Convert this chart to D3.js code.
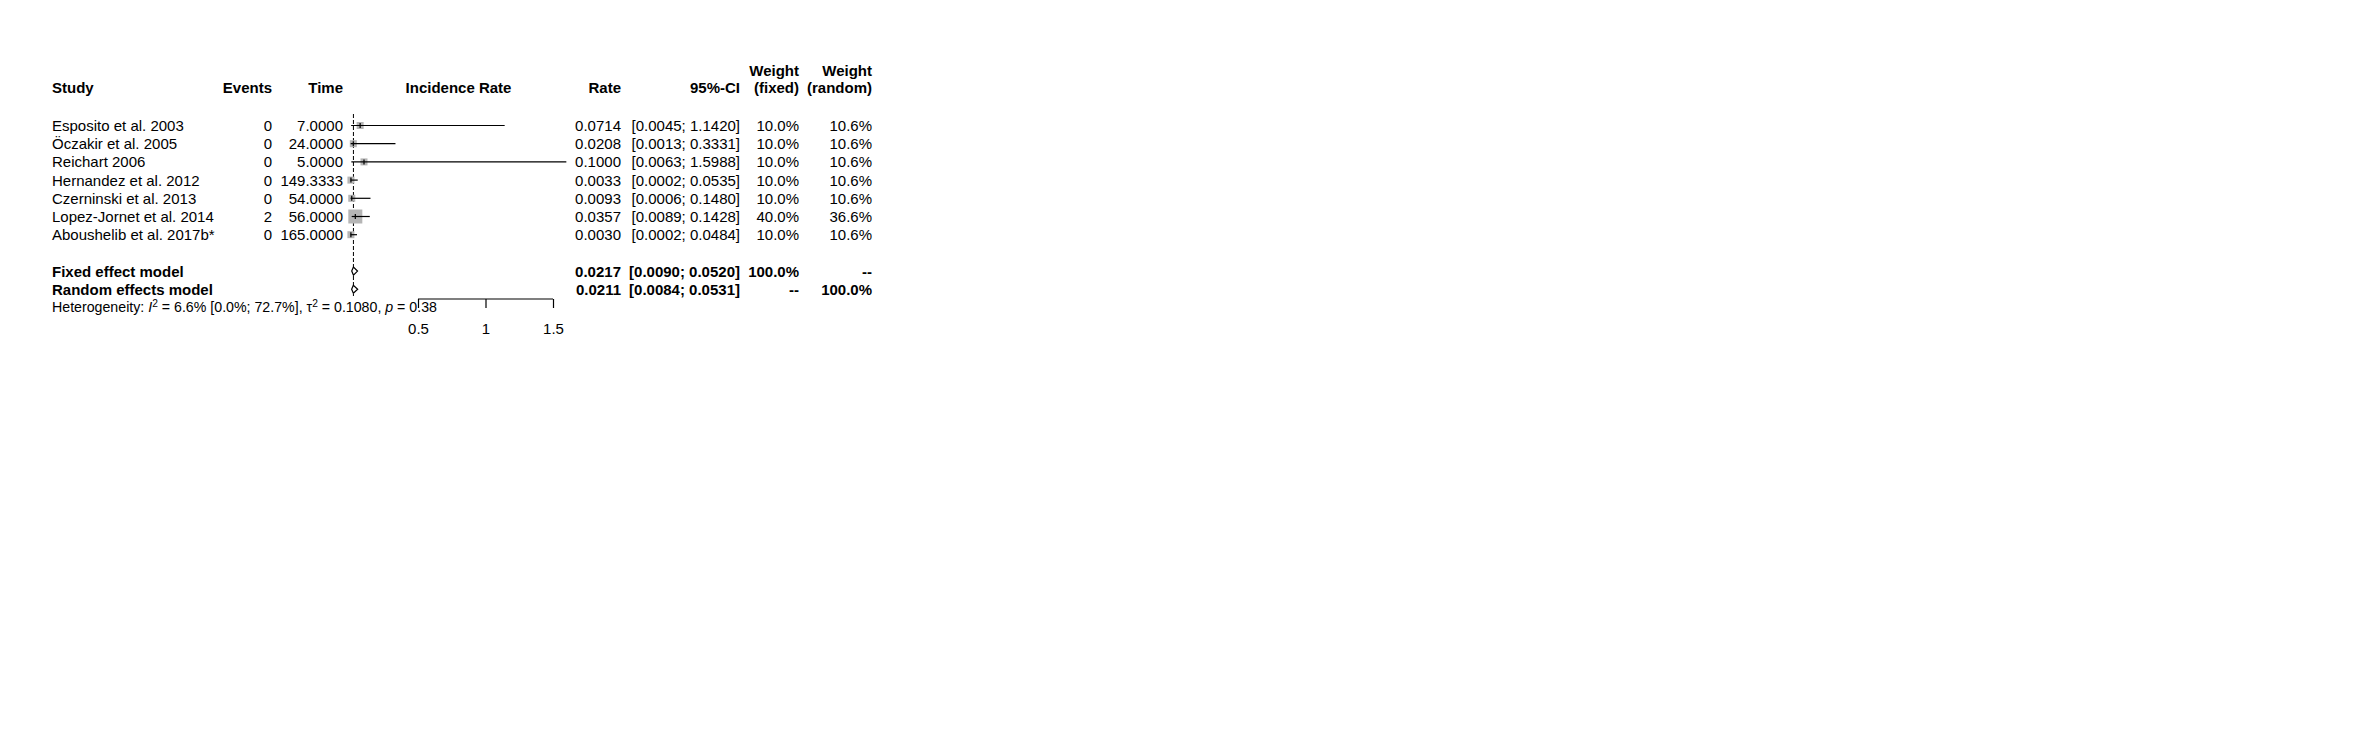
<!DOCTYPE html>
<html>
<head>
<meta charset="utf-8">
<script src="https://cdn.jsdelivr.net/npm/d3@7"></script>
<style>
  html, body { margin: 0; padding: 0; background: #fff; }
  svg text { font-family: "Liberation Sans", Arial, Helvetica, sans-serif; fill: #000; }
</style>
</head>
<body>
<script>
// ---- data ----
const studies = ["Esposito et al. 2003", "Öczakir et al. 2005", "Reichart 2006", "Hernandez et al. 2012",
                 "Czerninski et al. 2013", "Lopez-Jornet et al. 2014", "Aboushelib et al. 2017b*"];
const events = [0, 0, 0, 0, 0, 2, 0];
const times = [7.0, 24.0, 5.0, 149.3333, 54.0, 56.0, 165.0];
const rates = [0.0714, 0.0208, 0.1000, 0.0033, 0.0093, 0.0357, 0.0030];
const lowers = [0.0045, 0.0013, 0.0063, 0.0002, 0.0006, 0.0089, 0.0002];
const uppers = [1.1420, 0.3331, 1.5988, 0.0535, 0.1480, 0.1428, 0.0484];
const weightFixed = [10.0, 10.0, 10.0, 10.0, 10.0, 40.0, 10.0];
const weightRandom = [10.6, 10.6, 10.6, 10.6, 10.6, 36.6, 10.6];

const modelNames = ["Fixed effect model", "Random effects model"];
const modelRates = [0.0217, 0.0211];
const modelLowers = [0.0090, 0.0084];
const modelUppers = [0.0520, 0.0531];
const modelWFixed = ["100.0%", "--"];
const modelWRandom = ["--", "100.0%"];

const axisTicks = [0.5, 1, 1.5];
const heterogeneity = { I2: "6.6%", I2ci: "[0.0%; 72.7%]", tau2: "0.1080", p: "0.38" };

// ---- layout ----
const W = 2362, H = 738;
const svg = d3.select("body").append("svg").attr("width", W).attr("height", H);
svg.append("rect").attr("width", W).attr("height", H).attr("fill", "#fff");

const FS = 15;
const xStudy = 52, xEvents = 272, xTime = 343, xRate = 621, xCI = 740, xWF = 799, xWR = 872;
const rowY0 = 125.5, rowStep = 18.2;
const rowY = i => rowY0 + i * rowStep;

const x = d3.scaleLinear().domain([0, 1.5]).range([350.5, 553]);

// headers
const hdr = svg.append("g").attr("font-size", FS).attr("font-weight", "bold");
const hb2 = 93, hb1 = 76;
hdr.append("text").attr("x", xStudy).attr("y", hb2).text("Study");
hdr.append("text").attr("x", xEvents).attr("y", hb2).attr("text-anchor", "end").text("Events");
hdr.append("text").attr("x", xTime).attr("y", hb2).attr("text-anchor", "end").text("Time");
hdr.append("text").attr("x", 458.5).attr("y", hb2).attr("text-anchor", "middle").text("Incidence Rate");
hdr.append("text").attr("x", xRate).attr("y", hb2).attr("text-anchor", "end").text("Rate");
hdr.append("text").attr("x", xCI).attr("y", hb2).attr("text-anchor", "end").text("95%-CI");
hdr.append("text").attr("x", xWF).attr("y", hb1).attr("text-anchor", "end").text("Weight");
hdr.append("text").attr("x", xWF).attr("y", hb2).attr("text-anchor", "end").text("(fixed)");
hdr.append("text").attr("x", xWR).attr("y", hb1).attr("text-anchor", "end").text("Weight");
hdr.append("text").attr("x", xWR).attr("y", hb2).attr("text-anchor", "end").text("(random)");

// study rows text
const rows = svg.append("g").attr("font-size", FS);
studies.forEach((s, i) => {
  const y = rowY(i);
  const g = rows.append("g").attr("transform", `translate(0,${y})`);
  const t = (xx, txt, anchor) => g.append("text").attr("x", xx).attr("dy", "0.36em")
      .attr("text-anchor", anchor || "end").text(txt);
  t(xStudy, s, "start");
  t(xEvents, events[i]);
  t(xTime, times[i].toFixed(4));
  t(xRate, rates[i].toFixed(4));
  t(xCI, `[${lowers[i].toFixed(4)}; ${uppers[i].toFixed(4)}]`);
  t(xWF, weightFixed[i].toFixed(1) + "%");
  t(xWR, weightRandom[i].toFixed(1) + "%");
});

// model rows text
const mrows = svg.append("g").attr("font-size", FS).attr("font-weight", "bold");
modelNames.forEach((m, j) => {
  const y = rowY(8 + j);
  const g = mrows.append("g").attr("transform", `translate(0,${y})`);
  const t = (xx, txt, anchor) => g.append("text").attr("x", xx).attr("dy", "0.36em")
      .attr("text-anchor", anchor || "end").text(txt);
  t(xStudy, m, "start");
  t(xRate, modelRates[j].toFixed(4));
  t(xCI, `[${modelLowers[j].toFixed(4)}; ${modelUppers[j].toFixed(4)}]`);
  t(xWF, modelWFixed[j]);
  t(xWR, modelWRandom[j]);
});

// reference dashed line at fixed estimate
svg.append("line")
  .attr("x1", x(modelRates[0])).attr("x2", x(modelRates[0]))
  .attr("y1", 114).attr("y2", 296)
  .attr("stroke", "#000").attr("stroke-width", 1).attr("stroke-dasharray", "4,2");

// squares (side ∝ sqrt(weight))
const side = w => 7 * Math.sqrt(w / 10);
const plot = svg.append("g");
studies.forEach((s, i) => {
  const y = rowY(i), cx = x(rates[i]), sd = side(weightFixed[i]);
  plot.append("rect").attr("x", cx - sd / 2).attr("y", y - sd / 2)
    .attr("width", sd).attr("height", sd).attr("fill", "#b5b5b5");
});
studies.forEach((s, i) => {
  const y = rowY(i), cx = x(rates[i]);
  plot.append("line").attr("x1", x(lowers[i])).attr("x2", x(uppers[i]))
    .attr("y1", y).attr("y2", y).attr("stroke", "#000").attr("stroke-width", 1.2);
  plot.append("line").attr("x1", cx).attr("x2", cx)
    .attr("y1", y - 2.5).attr("y2", y + 2.5).attr("stroke", "#000").attr("stroke-width", 1.2);
});

// diamonds
modelNames.forEach((m, j) => {
  const y = rowY(8 + j);
  const l = x(modelLowers[j]), c = x(modelRates[j]), u = x(modelUppers[j]), h = 4;
  plot.append("path")
    .attr("d", `M${l},${y} L${c},${y - h} L${u},${y} L${c},${y + h} Z`)
    .attr("fill", "#fff").attr("stroke", "#000").attr("stroke-width", 1.2);
});

// axis
const axisY = 299;
const axG = svg.append("g").attr("transform", `translate(0,${axisY})`)
  .call(d3.axisBottom(x).tickValues(axisTicks).tickSize(9).tickPadding(15.5)
        .tickFormat(d3.format("")));
axG.select(".domain").remove();
axG.selectAll("text").attr("font-size", FS).attr("font-family", null).attr("fill", "#000");
axG.selectAll(".tick line").attr("stroke", "#000").attr("stroke-width", 1.2);
axG.append("line").attr("x1", x(axisTicks[0])).attr("x2", x(axisTicks[axisTicks.length - 1]))
  .attr("y1", 0).attr("y2", 0).attr("stroke", "#000").attr("stroke-width", 1.2);

// heterogeneity
const HF = 14.2;
const het = svg.append("text").attr("x", xStudy).attr("y", 312).attr("font-size", HF);
het.append("tspan").text("Heterogeneity: ");
het.append("tspan").attr("font-style", "italic").text("I");
het.append("tspan").attr("font-size", HF * 0.72).attr("dy", -5).text("2");
het.append("tspan").attr("dy", 5).text(` = ${heterogeneity.I2} ${heterogeneity.I2ci}, τ`);
het.append("tspan").attr("font-size", HF * 0.72).attr("dy", -5).text("2");
het.append("tspan").attr("dy", 5).text(` = ${heterogeneity.tau2}, `);
het.append("tspan").attr("font-style", "italic").text("p");
het.append("tspan").text(` = ${heterogeneity.p}`);
</script>
</body>
</html>
